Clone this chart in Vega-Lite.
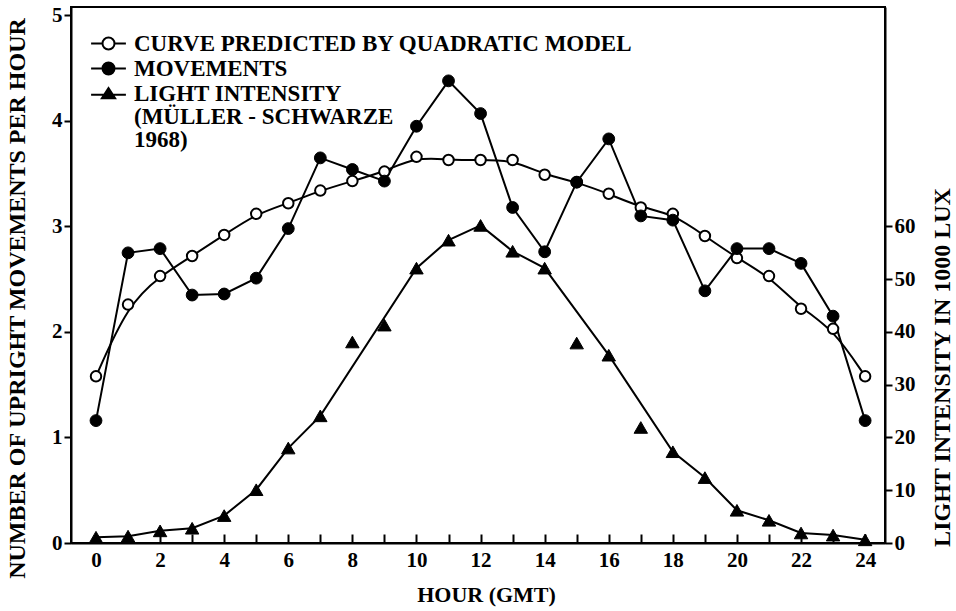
{
  "$schema": "https://vega.github.io/schema/vega-lite/v6.json",
  "width": 814,
  "height": 536,
  "autosize": "none",
  "padding": {"left": 71, "top": 7, "right": 71, "bottom": 68},
  "background": "white",
  "config": {
    "font": "Liberation Serif",
    "view": {"stroke": "black", "strokeWidth": 2},
    "axis": {
      "domainColor": "black", "domainWidth": 2,
      "tickColor": "black", "tickWidth": 2,
      "labelColor": "black", "titleColor": "black",
      "labelFont": "Liberation Serif", "titleFont": "Liberation Serif",
      "labelFontSize": 21, "titleFontSize": 22,
      "labelFontWeight": "bold", "titleFontWeight": "bold",
      "grid": false
    }
  },
  "datasets": {
    "hours": [
      {"hour": 0, "movements": 1.16, "predicted": 1.58, "light": 1.1},
      {"hour": 1, "movements": 2.75, "predicted": 2.26, "light": 1.3},
      {"hour": 2, "movements": 2.79, "predicted": 2.53, "light": 2.3},
      {"hour": 3, "movements": 2.35, "predicted": 2.72, "light": 2.8},
      {"hour": 4, "movements": 2.36, "predicted": 2.92, "light": 5.2},
      {"hour": 5, "movements": 2.51, "predicted": 3.12, "light": 10.1},
      {"hour": 6, "movements": 2.98, "predicted": 3.22, "light": 18.0},
      {"hour": 7, "movements": 3.65, "predicted": 3.34, "light": 24.1},
      {"hour": 8, "movements": 3.54, "predicted": 3.43, "light": 38.1},
      {"hour": 9, "movements": 3.43, "predicted": 3.52, "light": 41.3},
      {"hour": 10, "movements": 3.95, "predicted": 3.66, "light": 52.1},
      {"hour": 11, "movements": 4.38, "predicted": 3.63, "light": 57.4},
      {"hour": 12, "movements": 4.07, "predicted": 3.63, "light": 60.2},
      {"hour": 13, "movements": 3.18, "predicted": 3.63, "light": 55.3},
      {"hour": 14, "movements": 2.76, "predicted": 3.49, "light": 52.1},
      {"hour": 15, "movements": 3.42, "predicted": 3.42, "light": 37.9},
      {"hour": 16, "movements": 3.83, "predicted": 3.31, "light": 35.6},
      {"hour": 17, "movements": 3.10, "predicted": 3.18, "light": 21.9},
      {"hour": 18, "movements": 3.06, "predicted": 3.12, "light": 17.3},
      {"hour": 19, "movements": 2.39, "predicted": 2.91, "light": 12.4},
      {"hour": 20, "movements": 2.79, "predicted": 2.70, "light": 6.2},
      {"hour": 21, "movements": 2.79, "predicted": 2.53, "light": 4.3},
      {"hour": 22, "movements": 2.65, "predicted": 2.22, "light": 1.9},
      {"hour": 23, "movements": 2.15, "predicted": 2.03, "light": 1.5},
      {"hour": 24, "movements": 1.16, "predicted": 1.58, "light": 0.6}
    ],
    "lightLine": [
      {"hour": 0, "light": 1.1}, {"hour": 1, "light": 1.3}, {"hour": 2, "light": 2.3},
      {"hour": 3, "light": 2.8}, {"hour": 4, "light": 5.2}, {"hour": 5, "light": 10.1},
      {"hour": 6, "light": 18.0}, {"hour": 7, "light": 24.1}, {"hour": 10, "light": 52.1},
      {"hour": 11, "light": 57.4}, {"hour": 12, "light": 60.2}, {"hour": 13, "light": 55.3},
      {"hour": 14, "light": 52.1}, {"hour": 16, "light": 35.6}, {"hour": 18, "light": 17.3},
      {"hour": 19, "light": 12.4}, {"hour": 20, "light": 6.2}, {"hour": 21, "light": 4.3},
      {"hour": 22, "light": 1.9}, {"hour": 23, "light": 1.5}, {"hour": 24, "light": 0.6}
    ],
    "series": [
      {"series": "CURVE PREDICTED BY QUADRATIC MODEL"},
      {"series": "MOVEMENTS"},
      {"series": "LIGHT INTENSITY"}
    ]
  },
  "encoding": {
    "x": {
      "field": "hour", "type": "quantitative",
      "scale": {"domain": [-0.78, 24.62], "nice": false, "zero": false},
      "axis": {
        "values": [0,1,2,3,4,5,6,7,8,9,10,11,12,13,14,15,16,17,18,19,20,21,22,23,24],
        "labelExpr": "datum.value % 2 === 0 ? datum.label : ''",
        "tickSize": -9, "labelPadding": 15, "labelFlush": false,
        "title": "HOUR (GMT)", "titleX": 415, "titleY": 51,
        "titleAlign": "center", "titleBaseline": "middle"
      }
    }
  },
  "layer": [
    {
      "layer": [
        {
          "data": {"name": "hours"},
          "mark": {"type": "line", "interpolate": "basis", "color": "black", "strokeWidth": 2},
          "encoding": {"y": {"field": "predicted", "type": "quantitative",
            "scale": {"domain": [0, 5.08], "nice": false},
            "axis": {"values": [0,1,2,3,4,5], "tickSize": 7, "labelPadding": 2,
              "title": "NUMBER OF UPRIGHT MOVEMENTS PER HOUR",
              "titleFontSize": 24,
              "titleX": -54, "titleY": 291, "titleAngle": 270,
              "titleAlign": "center", "titleBaseline": "middle"}}}
        },
        {
          "data": {"name": "hours"},
          "mark": {"type": "line", "color": "black", "strokeWidth": 2},
          "encoding": {"y": {"field": "movements", "type": "quantitative",
            "axis": {"values": [0,1,2,3,4,5], "tickSize": 7, "labelPadding": 2,
              "title": "NUMBER OF UPRIGHT MOVEMENTS PER HOUR",
              "titleFontSize": 24,
              "titleX": -54, "titleY": 291, "titleAngle": 270,
              "titleAlign": "center", "titleBaseline": "middle"}}}
        },
        {
          "data": {"name": "hours"},
          "mark": {"type": "point", "shape": "circle", "filled": true, "fill": "white", "stroke": "black", "strokeWidth": 2, "size": 110, "opacity": 1},
          "encoding": {"y": {"field": "predicted", "type": "quantitative",
            "axis": {"values": [0,1,2,3,4,5], "tickSize": 7, "labelPadding": 2,
              "title": "NUMBER OF UPRIGHT MOVEMENTS PER HOUR",
              "titleFontSize": 24,
              "titleX": -54, "titleY": 291, "titleAngle": 270,
              "titleAlign": "center", "titleBaseline": "middle"}}}
        },
        {
          "data": {"name": "hours"},
          "mark": {"type": "point", "shape": "circle", "filled": true, "fill": "black", "stroke": "black", "strokeWidth": 1, "size": 140, "opacity": 1},
          "encoding": {"y": {"field": "movements", "type": "quantitative",
            "axis": {"values": [0,1,2,3,4,5], "tickSize": 7, "labelPadding": 2,
              "title": "NUMBER OF UPRIGHT MOVEMENTS PER HOUR",
              "titleFontSize": 24,
              "titleX": -54, "titleY": 291, "titleAngle": 270,
              "titleAlign": "center", "titleBaseline": "middle"}}}
        },
        {
          "data": {"name": "series"},
          "mark": {"type": "point", "filled": true, "opacity": 0, "stroke": "black"},
          "encoding": {
            "shape": {"field": "series", "type": "nominal",
              "scale": {"domain": ["CURVE PREDICTED BY QUADRATIC MODEL", "MOVEMENTS", "LIGHT INTENSITY"],
                "range": [
                  "M-2.9,0H-1M1,0H2.9M1,0A1,1 0 1 1 -1,0A1,1 0 1 1 1,0Z",
                  "M-2.9,0H2.9M1,0A1,1 0 1 1 -1,0A1,1 0 1 1 1,0Z",
                  "M-2.9,0.2H2.9M0,-0.9L1.1,0.8L-1.1,0.8Z"
                ]},
              "legend": {"title": null, "orient": "none", "legendX": 26, "legendY": 25,
                "symbolSize": 144, "symbolStrokeColor": "black", "symbolStrokeWidth": 2, "symbolOpacity": 1,
                "labelFont": "Liberation Serif", "labelFontSize": 23, "labelFontWeight": "bold", "labelColor": "black",
                "labelOffset": 14, "rowPadding": 1, "labelLimit": 0,
                "labelExpr": "datum.value === 'LIGHT INTENSITY' ? ['LIGHT INTENSITY', '(MÜLLER - SCHWARZE', '1968)'] : datum.label",
                "encode": {"labels": {"update": {"lineHeight": {"value": 23}}}, "symbols": {"update": {"stroke": {"value": "black"}, "strokeWidth": {"value": 2}, "opacity": {"value": 1}, "strokeOpacity": {"value": 1}, "fillOpacity": {"value": 1}}}}}},
            "fill": {"field": "series", "type": "nominal",
              "scale": {"domain": ["CURVE PREDICTED BY QUADRATIC MODEL", "MOVEMENTS", "LIGHT INTENSITY"],
                "range": ["white", "black", "black"]},
              "legend": {"title": null, "orient": "none", "legendX": 26, "legendY": 25,
                "symbolSize": 144, "symbolStrokeColor": "black", "symbolStrokeWidth": 2, "symbolOpacity": 1,
                "labelFont": "Liberation Serif", "labelFontSize": 23, "labelFontWeight": "bold", "labelColor": "black",
                "labelOffset": 14, "rowPadding": 1, "labelLimit": 0,
                "labelExpr": "datum.value === 'LIGHT INTENSITY' ? ['LIGHT INTENSITY', '(MÜLLER - SCHWARZE', '1968)'] : datum.label",
                "encode": {"labels": {"update": {"lineHeight": {"value": 23}}}, "symbols": {"update": {"stroke": {"value": "black"}, "strokeWidth": {"value": 2}, "opacity": {"value": 1}, "strokeOpacity": {"value": 1}, "fillOpacity": {"value": 1}}}}}}
          }
        }
      ]
    },
    {
      "layer": [
        {
          "data": {"name": "lightLine"},
          "mark": {"type": "line", "color": "black", "strokeWidth": 2},
          "encoding": {"y": {"field": "light", "type": "quantitative",
            "scale": {"domain": [0, 101.6], "nice": false},
            "axis": {"orient": "right", "values": [0,10,20,30,40,50,60], "tickSize": 7, "labelPadding": 2,
              "title": "LIGHT INTENSITY IN 1000 LUX", "titleFontSize": 24,
              "titleX": 57, "titleY": 360, "titleAngle": 270,
              "titleAlign": "center", "titleBaseline": "middle"}}}
        },
        {
          "data": {"name": "hours"},
          "mark": {"type": "point", "shape": "triangle-up", "filled": true, "fill": "black", "stroke": "black", "strokeWidth": 1, "size": 180, "opacity": 1},
          "encoding": {"y": {"field": "light", "type": "quantitative",
            "axis": {"orient": "right", "values": [0,10,20,30,40,50,60], "tickSize": 7, "labelPadding": 2,
              "title": "LIGHT INTENSITY IN 1000 LUX", "titleFontSize": 24,
              "titleX": 57, "titleY": 360, "titleAngle": 270,
              "titleAlign": "center", "titleBaseline": "middle"}}}
        }
      ]
    }
  ],
  "resolve": {"scale": {"y": "independent"}}
}
